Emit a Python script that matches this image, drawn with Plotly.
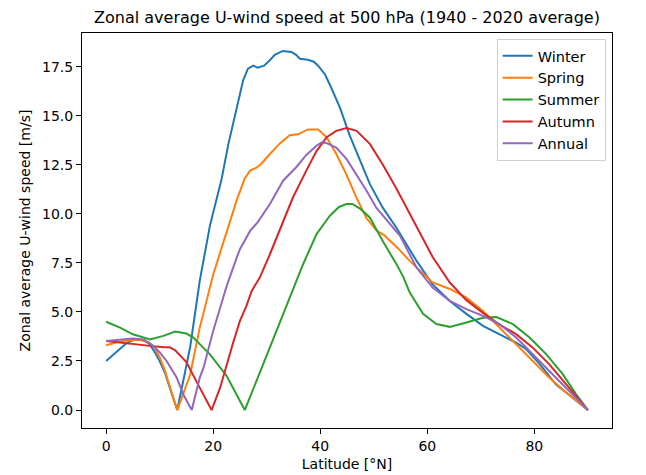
import plotly.graph_objects as go

# ---- data ----
winter_lat = [0, 2, 4, 5.5, 7, 8, 9, 10, 11, 12, 13.3, 15.7, 17.5, 19.4, 21.6, 22.8, 24.4, 25.6, 26.5,
              27.5, 28.3, 29.5, 30.5, 31.5, 33, 34.6, 35.5, 36.2, 37.7, 38.8, 39.6, 40.9, 42.1, 43.7,
              45.5, 47.4, 49.3, 51.7, 54.2, 58, 61, 64.2, 67.3, 70.4, 73.5, 76.6, 78.5, 81, 84, 87, 90]
winter_val = [2.5, 3.0, 3.45, 3.6, 3.55, 3.4, 3.0, 2.5, 1.9, 1.05, 0.0, 3.2, 6.6, 9.4, 11.8, 13.5, 15.4,
              16.8, 17.4, 17.55, 17.45, 17.55, 17.8, 18.1, 18.3, 18.25, 18.1, 17.9, 17.85, 17.75, 17.55,
              17.1, 16.4, 15.4, 14.0, 12.7, 11.5, 10.3, 9.3, 7.6, 6.4, 5.56, 4.9, 4.29, 3.87, 3.43, 3.1,
              2.34, 1.31, 0.65, 0.0]

spring_lat = [0, 2, 4, 6, 8, 9, 10, 11, 12, 13.3, 15.7, 17.5, 20, 23.1, 24.4, 25.9, 26.9, 28.1, 29,
              30.6, 32.5, 34.3, 35.9, 37.7, 39.6, 41.2, 43, 44.9, 46.8, 48.6, 50.5, 52, 54.5, 56.7, 58,
              61, 64.2, 67.3, 70.4, 73.5, 76.6, 79.7, 82.8, 86, 90]
spring_val = [3.3, 3.45, 3.55, 3.6, 3.45, 3.2, 2.7, 2.0, 1.1, 0.0, 1.8, 4.2, 6.9, 9.6, 10.7, 11.8, 12.2,
              12.35, 12.55, 13.05, 13.6, 14.0, 14.05, 14.3, 14.3, 13.9, 13.05, 12.0, 10.8, 9.8, 9.15,
              8.9, 8.25, 7.6, 7.26, 6.5, 6.17, 5.73, 5.05, 4.2, 3.36, 2.5, 1.65, 0.88, 0.0]

summer_lat = [0, 2.6, 5, 8.2, 10.7, 12.9, 15, 16.3, 17.5, 19.4, 22.5, 24.4, 25.9, 28.7, 31.8, 34.3,
              36.8, 39.3, 41.8, 43.5, 44.9, 46, 47.5, 49.3, 51.7, 54.2, 55.5, 56.7, 59.2, 61.7, 64.2,
              67.3, 70.4, 72.9, 76, 79.1, 82.2, 85.3, 87.8, 90]
summer_val = [4.5, 4.2, 3.86, 3.6, 3.78, 4.0, 3.9, 3.69, 3.36, 2.84, 1.75, 0.8, 0.0, 1.9, 4.03, 5.73,
              7.43, 8.96, 9.9, 10.35, 10.5, 10.5, 10.25, 9.8, 8.6, 7.45, 6.8, 6.0, 4.9, 4.38, 4.24,
              4.46, 4.7, 4.74, 4.38, 3.7, 2.85, 1.83, 0.8, 0.0]

autumn_lat = [0, 2.6, 5, 8.2, 10.7, 11.9, 12.9, 15, 16.8, 18.3, 19.7, 21.3, 22.5, 23.7, 25, 26.2, 27.2,
              28.7, 30.6, 32.5, 34.9, 37.4, 39.3, 41.2, 43, 44.9, 46.8, 49.3, 51.7, 54.2, 56.7, 58,
              61, 64.2, 67.3, 70.4, 73.5, 76.6, 79.7, 82.8, 86, 90]
autumn_val = [3.52, 3.43, 3.36, 3.27, 3.2, 3.2, 3.05, 2.45, 1.5, 0.7, 0.0, 1.14, 2.33, 3.4, 4.54, 5.3,
              6.07, 6.75, 7.94, 9.2, 10.83, 12.2, 13.2, 13.9, 14.23, 14.37, 14.23, 13.55, 12.5, 11.3,
              10.0, 9.3, 7.8, 6.5, 5.6, 4.95, 4.35, 3.87, 3.18, 2.33, 1.31, 0.0]

annual_lat = [0, 2.6, 5, 7, 8.8, 10, 11.3, 13.2, 14.4, 16, 17.5, 18.2, 20, 21.3, 22.5, 24.4, 25,
              26.9, 28.4, 30.6, 32.1, 33.1, 35.6, 37.4, 39.3, 40.3, 41.2, 43, 44.9, 46.8, 48.6, 50.5,
              53, 54.9, 58, 61, 64.2, 67.3, 70.4, 73.5, 76.6, 79.7, 82.8, 86, 90]
annual_val = [3.52, 3.6, 3.65, 3.6, 3.27, 2.95, 2.5, 1.65, 0.8, 0.0, 1.65, 2.16, 4.03, 5.2, 6.3, 7.77,
              8.2, 9.13, 9.6, 10.5, 11.2, 11.7, 12.4, 13.0, 13.47, 13.65, 13.6, 13.38, 12.8, 12.0,
              11.2, 10.3, 9.47, 8.88, 7.26, 6.24, 5.56, 5.14, 4.8, 4.38, 3.7, 2.85, 2.0, 1.07, 0.0]

series_names = ["Winter", "Spring", "Summer", "Autumn", "Annual"]
series_lat = [winter_lat, spring_lat, summer_lat, autumn_lat, annual_lat]
series_val = [winter_val, spring_val, summer_val, autumn_val, annual_val]
colors = ["#1f77b4", "#ff7f0e", "#2ca02c", "#d62728", "#9467bd"]

x_ticks = [0, 20, 40, 60, 80]
y_ticks = [0.0, 2.5, 5.0, 7.5, 10.0, 12.5, 15.0, 17.5]

fig = go.Figure()
for name, lat, val, c in zip(series_names, series_lat, series_val, colors):
    fig.add_trace(go.Scatter(x=lat, y=val, mode="lines", name=name,
                             line=dict(color=c, width=2)))

font = "DejaVu Sans, Liberation Sans, sans-serif"
fig.update_layout(
    width=646, height=475,
    margin=dict(l=82, r=34, t=33, b=47, autoexpand=False),
    paper_bgcolor="white", plot_bgcolor="white",
    font=dict(family=font, size=13, color="#000000"),
    title=dict(text="Zonal average U-wind speed at 500 hPa (1940 - 2020 average)",
               x=0.5, xanchor="center", xref="paper", y=1 - 17 / 475, yanchor="middle",
               automargin=False,
               font=dict(size=16, family=font, color="#000000")),
    legend=dict(x=0.988, xanchor="right", y=0.985, yanchor="top",
                bordercolor="#d0d0d0", borderwidth=1, bgcolor="rgba(255,255,255,0.8)",
                font=dict(size=14.5, family=font), tracegroupgap=0, itemwidth=30),
    showlegend=True,
)
fig.update_xaxes(range=[-4.5, 94.5], tickvals=x_ticks, ticktext=[str(t) for t in x_ticks],
                 automargin=False,
                 showgrid=False, zeroline=False, showline=True, linecolor="black", linewidth=1,
                 mirror=True, ticks="outside", ticklen=5, tickcolor="black",
                 tickfont=dict(size=14), title=dict(text="Latitude [°N]", font=dict(size=14), standoff=6))
fig.update_yaxes(range=[-0.915, 19.215], tickvals=y_ticks, ticktext=[f"{t:.1f}" for t in y_ticks],
                 automargin=False,
                 showgrid=False, zeroline=False, showline=True, linecolor="black", linewidth=1,
                 mirror=True, ticks="outside", ticklen=5, tickcolor="black",
                 tickfont=dict(size=14),
                 title=dict(text="Zonal average U-wind speed [m/s]", font=dict(size=14), standoff=8))

fig.write_html("out.html", config={"displayModeBar": False},
               post_script="document.body.style.margin='0px';document.body.style.padding='0px';")
